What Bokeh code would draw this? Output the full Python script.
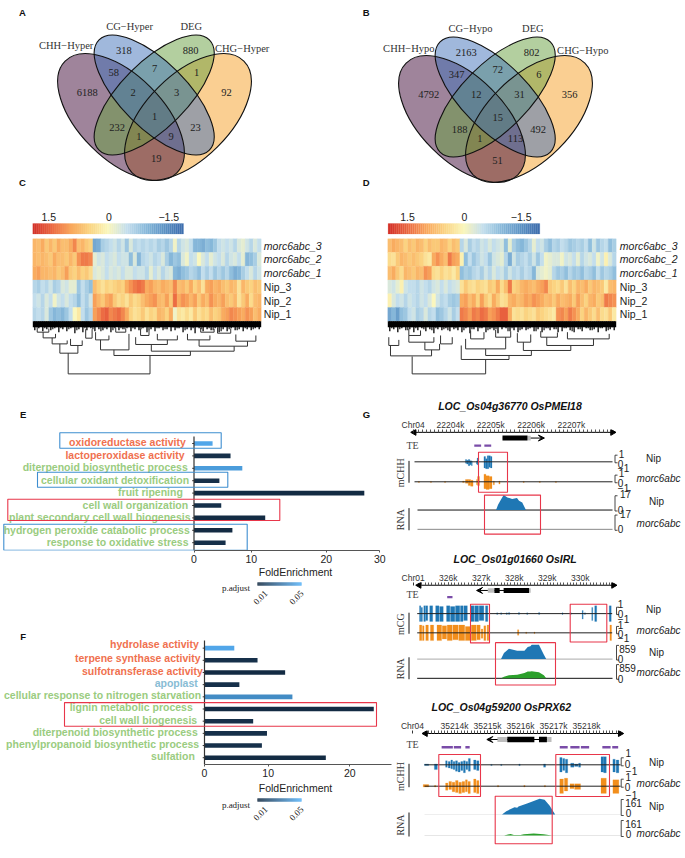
import numpy as np
from bokeh.embed import file_html
from bokeh.resources import INLINE
from bokeh.plotting import figure
from bokeh.layouts import column, row
from bokeh.models import Range1d, LinearColorMapper, ColumnDataSource, FixedTicker, Arrow, VeeHead
from bokeh.core.properties import value

# ---------------- data ----------------
venn_a_counts = ["318","880","58","7","1","6188","2","3","92","1","232","23","1","9","19"]
venn_a_sets = ["CHH−Hyper","CG−Hyper","DEG","CHG−Hyper"]
venn_b_counts = ["2163","802","347","72","6","4792","12","31","356","15","188","492","1","113","51"]
venn_b_sets = ["CHH−Hypo","CG−Hypo","DEG","CHG−Hypo"]

heat_rows = ["morc6abc_3","morc6abc_2","morc6abc_1","Nip_3","Nip_2","Nip_1"]
heat_c_0 = [.8,.7,.9,.6,.8,.6,.9,.7,.7,.9,1.2,.7,.8,.6,.5,-1.2,-1.1,-.7,-.6,-.5,-.4,-.6,-.4,-.8,-.3,-.6,-.5,-.6,-.5,-.6,-.5,-.7,-.6,-.8,-.6,-.1,-.6,-.4,-.3,-.5,-1.0,-1.0,-1.1,-.9,-1.0,-.8,-.5,-.4,-.5,-.4,-.6,-.3,-.2,-.4,-.6,-.3,-.5]
heat_c_1 = [.8,.7,.8,.7,.6,.9,.7,.7,.6,.8,.6,1.1,1.3,1.3,1.2,-.2,-.4,-.3,-.5,-.4,-.3,-.5,-.4,-.4,-.9,-.3,-1.0,-.6,-.5,-.4,-.6,-.5,-.3,-.7,-1.0,-.8,-.9,-.3,-.1,-.5,-.4,.0,-.3,-.5,-.2,-.4,-.5,-.3,-.6,-.4,-.3,-.5,-.2,-1.0,-.9,-.7,-.3]
heat_c_2 = [.9,1.0,.8,.8,.7,.8,.6,.7,1.0,.6,.5,.7,.5,.6,.4,-.3,-.2,-.3,-.5,-.3,-.4,-.3,-.5,-.3,-.3,-.5,-.4,-.4,-.6,-.2,-.5,-.3,-.6,-.4,-.3,-1.0,-1.1,-.9,-.8,-.6,-.7,-.9,-.5,-.7,-.5,-.8,-.6,-.8,-.6,-.9,-1.1,-1.0,-.7,-.5,-.3,-.6,-.4]
heat_c_3 = [-.6,-.7,-.5,-.6,-.4,-.7,-.6,-.3,-.4,-.2,-.2,-.8,-.5,-.7,-.9,.7,.5,.3,.5,.4,.5,.6,.5,.9,1.1,1.3,1.4,1.3,.9,1.0,.8,.7,.9,.8,.7,1.2,.7,.8,.6,.9,.5,.7,.3,.9,1.0,.8,.9,.7,.6,.8,.7,.3,.8,.6,.5,.7,.6]
heat_c_4 = [-.5,-.4,-.6,-.3,-.5,-.1,-.4,-.5,-.3,-.5,-.6,-.9,-.5,-.7,-.4,1.0,.8,.6,.9,1.0,.6,.4,.5,.3,.6,.4,.5,.7,.9,1.0,1.1,.8,.7,1.0,.6,1.4,.9,1.1,1.0,.8,1.0,.6,.9,.7,1.1,.9,.8,1.0,.7,.6,.8,.3,.6,.9,.4,.7,.8]
heat_c_5 = [-.6,-.5,-.6,-.3,-.8,-1.0,-.9,-1.0,-.8,-.5,.0,.2,-.5,-.8,-.6,1.0,1.2,1.4,1.5,1.2,1.3,1.4,1.2,.9,.5,.3,.4,.6,.3,.5,.4,.8,.7,.5,.9,-.1,.3,.2,.4,.2,.6,.3,.5,.4,.7,.5,.6,.9,1.0,1.2,1.1,1.0,.9,1.1,1.0,.7,.9]
heat_d_0 = [.7,.9,.8,.7,.5,.7,.6,.8,.7,.5,.7,.6,.6,.8,.7,.5,.7,.6,-.6,-.3,-.7,-.5,-.6,-.4,-.5,-.3,-.5,-.4,-.3,-.9,-.2,-.7,-.9,-1.0,-.8,-.6,-.2,-.5,-.4,-.7,-.9,-.6,-.7,-.5,-.6,-.8,-.7,-.6,-.7,-.5,-.9,-.4,-.8,-.6,-.5,-.9,-.7]
heat_d_1 = [.4,.3,.6,.8,.7,.6,.7,.6,.5,.3,.2,.9,1.1,.9,.7,1.3,1.0,.9,.1,-.9,-.5,-.8,-.6,-.4,-.5,-.8,-.4,-.3,-.2,-.6,-1.1,-.4,-.7,-.6,-.5,-.7,-.4,-.8,-.5,-.1,-.2,-.3,-.3,-.1,-.4,-.3,-.5,-.2,-.6,-.4,-.3,-.5,-.1,-.4,.1,-.3,-.6]
heat_d_2 = [.7,.9,.6,.4,.8,.7,.6,.8,.7,1.1,1.0,.4,.3,.5,.3,.4,.2,.5,-.9,-.7,-.8,-.6,-.5,-.7,-.4,-.6,-.3,-.5,-.4,-.7,-.4,-.6,-.5,-.7,-.5,-.6,-1.0,-.3,-.2,-.1,-.2,-.6,-.8,-.7,-.9,-.6,-.8,-.7,-.9,-.6,-.7,-.9,-.5,-.8,-.6,-.7,-.9]
heat_d_3 = [-.3,-.4,-.2,.1,-.4,-.5,-.5,-.6,-.4,-.5,-.6,-.4,-.3,-.5,-.3,-.5,-.4,-.3,.3,.6,.4,.3,.5,.4,.3,.6,.5,.9,.4,.7,1.3,.5,.6,.8,.9,.8,.7,.9,1.0,1.2,.6,.5,.4,.6,.3,.7,.5,.8,.7,.9,.6,.8,.7,.6,.2,.7,.8]
heat_d_4 = [.1,-.3,-.5,-.4,-.6,-.4,-.5,-.6,-.4,-.5,-.3,.0,-.4,-.6,-.5,-.7,-.8,-.7,.9,1.0,.7,.9,.5,1.0,.6,.4,.9,.6,.3,.4,.8,.9,.7,.8,1.0,.9,1.1,1.0,.9,.7,.8,.6,.9,.7,.8,.9,.6,1.0,.7,.5,.8,.9,.6,.7,1.3,1.2,1.1]
heat_d_5 = [-1.2,-1.0,-1.3,-.9,-.8,-.5,-.4,-.7,-.6,-.3,-.6,-.5,-.9,-.8,-.6,-.4,-.7,-.5,1.3,1.2,1.0,1.3,1.2,1.4,1.3,1.0,1.1,1.3,1.5,1.5,.9,.3,.4,.3,.5,.4,.3,.6,.5,.4,.3,.2,1.1,1.2,1.0,1.3,1.1,.9,.5,.8,.6,.4,.7,.4,.3,.6,.2]

# dendrogram merges: left column, right column, height, left child height, right child height
dendro_c = [(8.83,29.25,52.7,32,34.3),(6.75,11.25,32,22.7,24.3),(4.83,8.58,22.7,16.7,19.3),(2.58,5.67,16.7,11,12.7),
 (9.42,12.33,24.3,17.7,19.3),(20.25,39.33,34.3,28.7,30),(16.9,24,28.7,18.7,12.7),(15.67,19,18.7,11,14.3),
 (29.58,50.25,30,23.3,25),(25.67,33.58,23.3,16,18.7),(31.08,36.08,18.7,12.7,14.3),(41.5,53.58,25,18.7,20),
 (38.6,44.2,18.7,12.7,14.3),(50.67,55.67,20,13.3,14.3),(1.1,4,11,6,7.3),(13.2,14.8,17,8,8),(20.7,23.2,11,6.7,7.7),
 (26.9,29,14.3,7.7,8.7),(41.9,45.25,11,6.7,7.7),(46.1,49.4,12,6,7.3)]
dendro_d = [(6.08,24.42,52.7,35.3,38.3),(.67,10.92,34.7,24.3,28.7),(9.25,12.92,28.7,21,22.7),(.25,2.75,24.3,16,18.7),
 (5.25,11.5,21,14.3,16),(18.33,30.25,38.3,24.3,34.3),(24.42,35.83,34.3,27.7,29.3),(19.42,29.42,27.7,17.7,16),
 (33.83,45.67,29.3,21,24.3),(39.67,51.33,24.3,16,17.7),(44.83,55.25,17.7,11,12.7),(38.17,42.33,16,10,11.3),
 (32.33,35.67,21,12,13.3),(20.67,24,17.7,9.3,11),(26.92,30.67,16,8.7,10),(5.25,8.17,14.3,7.7,9.3),(13.17,16.08,22.7,14.3,16)]
leaf_c = [6,4,7,5,6,4,8,5,7,4,9,5,8,6,4,7,5,6,5,8,4,6,5,4,7,5,6,4,8,5,7,4,6,5,7,6,4,8,5,6,9,4,7,5,6,4,8,5,7,4,6,5,7,5,6,4,5]
leaf_d = [7,5,8,4,6,5,8,6,4,7,5,9,5,6,4,7,5,6,8,4,9,5,7,4,8,5,6,9,5,4,7,6,8,5,6,4,7,5,8,4,6,5,8,7,4,6,8,5,7,4,6,5,8,4,7,5,6]

go_e_terms = ["oxidoreductase activity","lactoperoxidase activity","diterpenoid biosynthetic process","cellular oxidant detoxification","fruit ripening","cell wall organization","plant secondary cell wall biogenesis","hydrogen peroxide catabolic process","response to oxidative stress"]
go_e_fold = [3.0,5.9,7.8,4.1,27.5,4.4,11.5,6.2,5.1]
go_e_padj = [.05,.006,.046,.006,.004,.006,.004,.004,.006]
go_f_terms = ["hydrolase activity","terpene synthase activity","sulfotransferase activity","apoplast","cellular response to nitrogen starvation","lignin metabolic process","cell wall biogenesis","diterpenoid biosynthetic process","phenylpropanoid biosynthetic process","sulfation"]
go_f_fold = [4.1,7.3,11.1,4.8,12.1,23.3,6.7,8.6,7.9,16.7]
go_f_padj = [.05,.006,.004,.006,.04,.004,.006,.006,.006,.004]

# (start kb, end kb, up, down) methylation blocks, (kb, reads) RNA outlines
g1_m_nip = [(22204.37,22204.40,.3,.2),(22204.40,22204.44,.2,.3),(22204.44,22204.48,.3,.5),(22204.48,22204.52,.15,.4),(22204.52,22204.54,.1,.5),(22204.645,22204.66,.1,.3),(22204.66,22204.70,.5,.4),(22204.83,22204.87,.7,.8),(22204.87,22204.91,.4,.9),(22204.91,22204.95,.8,.9),(22204.95,22204.99,.8,.7),(22204.99,22205.03,.7,.8)]
g1_m_mut = [(22204.30,22204.34,.1,.1),(22204.37,22204.44,.3,.2),(22204.44,22204.50,.3,.5),(22204.50,22204.56,.2,.6),(22204.645,22204.67,.3,.4),(22204.67,22204.72,.7,.5),(22204.83,22204.88,1,.9),(22204.88,22204.96,.8,1),(22204.96,22205.03,.7,.9),(22205.06,22205.09,.1,.4),(22205.20,22205.23,.1,.3),(22203.20,22203.23,.05,.1),(22203.50,22203.53,.05,.1),(22203.85,22203.88,.05,.1),(22205.80,22205.83,.05,.1),(22206.20,22206.23,.05,.1),(22206.60,22206.63,.05,.1)]
g1_r_nip_kb = [22205.13,22205.18,22205.26,22205.32,22205.41,22205.53,22205.65,22205.70,22205.78,22205.86,22205.87]
g1_r_nip = [0,6,12.5,17,14.4,12.5,13.6,10.6,8.7,1.1,0]
g2_m_nip = [(325.13,325.17,1,1),(325.18,325.22,.8,1),(325.26,325.31,1,1),(325.32,325.38,1,.9),(325.44,325.53,1,1),(325.62,325.72,1,1),(325.74,325.85,.9,1),(325.95,326.05,1,1),(326.07,326.2,.9,1),(326.22,326.35,1,1),(326.37,326.45,1,1),(326.47,326.58,1,.9),(326.68,326.78,1,1),(326.80,326.92,1,1),(326.94,327.08,1,.9),(327.13,327.2,1,1),(327.47,327.50,.1,.1),(327.59,327.62,.1,.1),(327.76,327.79,.1,.1),(327.83,327.86,.15,.1),(328.13,328.16,.15,.1),(328.38,328.41,.1,.1),(328.74,328.77,.15,.1),(329.45,329.48,.1,.1),(329.70,329.73,.1,.1),(330.06,330.09,.4,.7),(330.13,330.16,.1,.1),(330.35,330.38,.8,.9),(330.44,330.50,1,1),(330.88,330.94,1,1)]
g2_m_mut = [(325.13,325.20,1,1),(325.22,325.27,.9,1),(325.32,325.40,1,1),(325.46,325.56,1,1),(325.66,325.80,1,1),(325.82,325.95,.9,.8),(325.97,326.12,1,1),(326.14,326.30,1,.9),(326.32,326.50,1,1),(326.52,326.68,.8,1),(326.70,326.85,1,1),(326.87,326.97,1,.9),(327.00,327.05,.5,.7),(327.08,327.14,.9,1),(327.18,327.23,1,1),(328.10,328.14,.4,.3),(328.35,328.38,.1,.1),(328.60,328.63,.1,.1),(330.90,330.95,1,1)]
g2_r_kb = [327.6,327.69,327.84,328.09,328.31,328.41,328.49,328.53,328.75,328.9,328.97]
g2_r_nip = [0,366,621,493,493,731,768,859,859,256,0]
g2_r_mut = [0,100,183,219,311,402,402,420,366,183,0]
g3_m_nip = [(35213.09,35213.22,.1,.1),(35213.39,35213.48,.1,.6),(35213.73,35213.78,.5,.3),(35213.81,35213.87,.4,.4),(35213.89,35213.94,.6,.5),(35213.96,35214.01,.4,.6),(35214.03,35214.09,.5,.8),(35214.11,35214.17,.3,.9),(35214.19,35214.25,.4,.7),(35214.27,35214.33,.5,1),(35214.35,35214.40,.4,.6),(35214.42,35214.48,.8,.8),(35214.58,35214.65,.6,.6),(35214.67,35214.74,.5,.7),(35215.10,35215.14,.05,.1),(35215.40,35215.44,.05,.1),(35215.95,35215.99,.1,.1),(35216.70,35216.76,.1,.3),(35217.19,35217.26,.9,.9),(35217.28,35217.34,.8,.7),(35217.36,35217.43,.7,1),(35217.52,35217.62,.2,.3),(35217.64,35217.74,.1,.2),(35217.76,35217.82,.2,.3),(35218.44,35218.52,1,.9),(35218.52,35218.60,1,1),(35218.80,35218.87,.7,.9),(35218.90,35218.98,.6,1)]
g3_m_mut = [(35213.05,35213.22,.2,.1),(35213.39,35213.44,.1,.1),(35213.73,35213.80,.4,.5),(35213.83,35213.91,.6,.4),(35213.93,35214.01,.5,.7),(35214.03,35214.11,.7,.8),(35214.13,35214.21,.5,.9),(35214.23,35214.31,.6,.8),(35214.33,35214.39,.8,.7),(35214.41,35214.48,.6,.9),(35214.58,35214.65,.9,.8),(35214.67,35214.74,.7,.9),(35215.30,35215.34,.1,.1),(35216.10,35216.14,.1,.1),(35216.72,35216.76,.1,.1),(35217.19,35217.30,.9,.9),(35217.33,35217.43,1,.6),(35217.50,35217.62,.3,.3),(35217.64,35217.82,.3,.4),(35218.44,35218.60,1,.9),(35218.80,35218.98,.8,.9)]
g3_r_kb = [35215.44,35215.57,35215.82,35215.9,35215.94,35216.22,35216.58,35216.73,35216.88,35217.05]
g3_r_nip = [0,34,75,70,82,116,161,151,92,0]
g3_r_mut_kb = [35215.5,35215.7,35215.8,35216.0,35216.1,35216.4,35216.7,35216.95]
g3_r_mut = [0,16,6,6,12,20,14,0]

# ---------------- helpers ----------------
SANS, SERIF = "Liberation Sans", "Liberation Serif"
def T(p, x, y, s, size=10, color="black", font=SANS, style="normal", align="center", base="middle", angle=0):
    p.text(x=[x], y=[y], text=[s], text_font=value(font), text_font_size=f"{size}px", text_color=color,
           text_font_style=style, text_align=align, text_baseline=base, angle=angle)

def fig(w, h, xr, yr, **kw):
    p = figure(width=w, height=h, x_range=Range1d(*xr), y_range=Range1d(*yr), output_backend="svg", toolbar_location=None,
               min_border_left=0, min_border_right=0, min_border_top=kw.pop("top", 0), min_border_bottom=kw.pop("bottom", 0),
               x_axis_location=kw.pop("xloc", None), y_axis_location=None, **kw)
    p.outline_line_color = None
    p.grid.visible = False
    return p

def interp_palette(anchors, n=256):
    rgb = np.array([[int(a[i:i+2], 16) for i in (1, 3, 5)] for a in anchors], float)
    t = np.linspace(0, 1, len(anchors))
    u = np.linspace(0, 1, n)
    return ["#%02x%02x%02x" % tuple(int(round(np.interp(v, t, rgb[:, k]))) for k in range(3)) for v in u]

heat_map = LinearColorMapper(palette=interp_palette(["#3f6fae","#5f95c6","#8bbbdb","#c6e0ed","#fbf7bd","#fbd583","#f9a75c","#ec6a42","#d4322a"]), low=-1.9, high=1.9)
padj_map = LinearColorMapper(palette=interp_palette(["#132B43","#56B1F7"]), low=0.004, high=0.054)

# ---------------- Venn ----------------
def venn(w, xr, dx, dy, counts, sets, count_xy, set_xy, letters):
    p = fig(w, 192, xr, (192, 0))
    ell = [(187.5, 116.5, 79, 42, np.pi/4, "#f59f25"), (120.5, 116.5, 79, 42, -np.pi/4, "#3f0a38"),
           (153.7, 94.5, 78, 33, np.pi/4, "#68a040"), (153.7, 94.5, 78, 33, -np.pi/4, "#4171b9")]
    for cx, cy, a, b, ang, col in ell:
        p.ellipse(x=[cx+dx], y=[cy+dy], width=[2*a], height=[2*b], angle=[ang], fill_color=col, fill_alpha=.5, line_color=None)
    for cx, cy, a, b, ang, col in ell:
        p.ellipse(x=[cx+dx], y=[cy+dy], width=[2*a], height=[2*b], angle=[ang], fill_color=None, line_color="#111111", line_width=1.1)
    for s, (x, y) in zip(counts, count_xy):
        T(p, x, y, s, 10.5, "#222222", SERIF)
    for s, (x, y) in zip(sets, set_xy):
        T(p, x, y, s, 10.5, "#333333", SERIF)
    for s, x, y in letters:
        T(p, x, y, s, 9.5, "#111111", SANS, "bold")
    return p

a_xy = [(123.3,50),(190,50),(113.3,72.3),(154,67.7),(196,72.3),(86.7,92.3),(132.7,92.3),(176,92.3),(226,92.3),(154,116),(116.7,127.3),(195,127.3),(138.3,136),(170.7,136),(155.7,158.3)]
a_sets = [(65.7,45),(129,26),(190.7,26),(241.7,47.7)]
b_xy = [(345+z/3, y/3) for z, y in [(362,155),(558,155),(333,222),(457,208),(580,222),(250,282),(392,282),(522,282),(672,282),(457,352),(342,388),(578,388),(403,414),(510,414),(456,480)]]
b_sets = [(345+z/3, y/3) for z, y in [(190,143),(375,83),(562,83),(712,150)]]
pA = venn(345, (0, 345), 0, 0, venn_a_counts, venn_a_sets, a_xy, a_sets, [("A", 22, 12), ("C", 22, 182)])
pB = venn(340, (345, 685), 341, 2, venn_b_counts, venn_b_sets, b_xy, b_sets, [("B", 365.7, 12), ("D", 365.7, 182)])

# ---------------- Heatmaps ----------------
def heat(w, px0, px1, hx0, matrix, merges, leaves, bar_x, tick_x, label_x):
    cw, rh, hy0 = 228.4/57, 13.73, 238.3
    X = lambda px: (px-hx0)/cw
    Y = lambda py: (py-hy0)/rh
    p = fig(w, 200, (X(px0), X(px1)), (Y(392), Y(192)))
    xs, ys, vs = [], [], []
    for r, vals in enumerate(matrix):
        for c, v in enumerate(vals):
            xs.append(c+.5); ys.append(r+.5); vs.append(v)
    src = ColumnDataSource(dict(x=xs, y=ys, v=vs))
    col = {"field": "v", "transform": heat_map}
    p.rect("x", "y", width=1, height=1, source=src, fill_color=col, line_color=col, line_width=.3)
    # colour scale
    n = 75
    scale = np.linspace(heat_map.high, heat_map.low, n)
    ex = np.linspace(X(bar_x[0]), X(bar_x[1]), n+1)
    s2 = ColumnDataSource(dict(l=ex[:-1], r=ex[1:], v=scale))
    p.quad(left="l", right="r", bottom=Y(233.5), top=Y(223), source=s2, fill_color=col, line_color=col, line_width=.2)
    for s, tx in zip(["1.5", "0", "−1.5"], tick_x):
        T(p, X(tx), Y(216), s, 10.5, "#222222")
    # dendrogram: leaf fuzz and merges
    lc = np.arange(len(leaves))
    p.segment(x0=lc+.5, y0=[6]*len(lc), x1=lc+.5, y1=[6+(h+3)/rh for h in leaves], line_color="black", line_width=1.3)
    p.segment(x0=lc[:-1]+1, y0=[6]*(len(lc)-1), x1=lc[:-1]+1, y1=[6+(h+1)/rh for h in leaves[::-1][:-1]], line_color="black", line_width=1.1)
    p.quad(left=[0], right=[57], top=[6], bottom=[6+6/rh], fill_color="black", line_color=None)
    for l, r, h, hl, hr in merges:
        p.multi_line(xs=[[l, l, r, r]], ys=[[6+hl/rh, 6+h/rh, 6+h/rh, 6+hr/rh]], line_color="#333333", line_width=1)
    for i, name in enumerate(heat_rows):
        T(p, X(label_x), i+.5, name, 10.5, "#222222", SANS, "italic" if i < 3 else "normal", "left")
    return p

pC = heat(345, 0, 345, 32.3, [heat_c_0,heat_c_1,heat_c_2,heat_c_3,heat_c_4,heat_c_5], dendro_c, leaf_c, (32.3,183), (48.3,108.3,168.3), 263.3)
pD = heat(340, 345, 685, 387.3, [heat_d_0,heat_d_1,heat_d_2,heat_d_3,heat_d_4,heat_d_5], dendro_d, leaf_d, (387.6,539.3), (407,464,520.7), 619.3)

# ---------------- GO bars ----------------
RED, BLUE = "#e8364a", "#3e8ed0"
ORANGE, GREEN, CC = "#f0714f", "#9acc80", "#88bcd4"

def go(height, ytop, ybot, zero, k, c0, dy, terms, fold, padj, colors, label_right, label_y, ticks, tick_labels, bound, boxes, axis_top):
    X = lambda px: (px-zero)/k
    Y = lambda py: (py-c0)/dy
    p = fig(392, height, (X(0), X(392)), (Y(ybot), Y(ytop)), xloc="below", bottom=16)
    ax = p.xaxis[0]
    ax.ticker = FixedTicker(ticks=ticks)
    ax.major_label_overrides = dict(zip(ticks, tick_labels))
    ax.bounds = (0, bound)
    ax.axis_line_color = "#555555"
    ax.major_tick_line_color = "#555555"
    ax.major_tick_in, ax.major_tick_out = 0, 2
    ax.minor_tick_line_color = None
    ax.major_label_text_font, ax.major_label_text_font_size = SANS, "10.5px"
    ax.major_label_text_color = "#222222"
    ax.major_label_standoff = 2
    src = ColumnDataSource(dict(y=list(range(len(terms))), v=fold, p=padj))
    p.hbar(y="y", right="v", left=0, height=4.6/dy, source=src, fill_color={"field": "p", "transform": padj_map}, line_color=None)
    p.segment(x0=[0], x1=[0], y0=[Y(axis_top)], y1=[Y(ybot)], line_color="#333333", line_width=1.2)
    p.segment(x0=[X(zero-1.8)]*len(terms), x1=[0]*len(terms), y0=list(range(len(terms))), y1=list(range(len(terms))), line_color="#333333", line_width=1)
    for s, c, rx, ly in zip(terms, colors, label_right, label_y):
        T(p, X(rx), Y(ly), s, 10.5, c, SANS, "bold", "right")
    for x0, x1, y0, y1, c in boxes:
        p.quad(left=[X(x0)], right=[X(x1)], top=[Y(y0)], bottom=[Y(y1)], fill_color=None, line_color=c, line_width=1.1)
    return p

def legend(height, ytop, ybot, fold_y, bar_y, padj_y, tick_y):
    p = fig(392, height, (0, 392), (ybot, ytop))
    T(p, 295, fold_y, "FoldEnrichment", 10.5, "#222222")
    T(p, 235.5, padj_y, "p.adjust", 9, "#222222", SERIF)
    vals = np.linspace(padj_map.low, padj_map.high, 44)
    ex = np.linspace(257, 301, 45)
    col = {"field": "v", "transform": padj_map}
    p.quad(left="l", right="r", top=bar_y, bottom=bar_y+3, source=ColumnDataSource(dict(l=ex[:-1], r=ex[1:], v=vals)), fill_color=col, line_color=col, line_width=.2)
    T(p, 260, tick_y, "0.01", 9, "#222222", SERIF, angle=np.pi/4)
    T(p, 296, tick_y, "0.05", 9, "#222222", SERIF, angle=np.pi/4)
    return p

pE = go(174, 392, 550, 193.5, 6.193, 443, 12.4, go_e_terms, go_e_fold, go_e_padj,
        [ORANGE, ORANGE, GREEN, GREEN, GREEN, GREEN, GREEN, GREEN, GREEN],
        [185.3,184,187.3,188.7,182.3,187.7,190,189.3,188], [441.3,454,466.3,479,491,504,516.3,529,541.3],
        [0, 9.24, 21.35, 30], ["0", "10", "20", "30"], 30,
        [(59.3,220.7,432.3,447.7,BLUE),(37,227.3,471.7,486.7,BLUE),(3.3,246.7,523.7,549.7,BLUE),(7.3,279.3,498.7,520,RED)], 436)
T(pE, (22.7-193.5)/6.193, (414-443)/12.4, "E", 9.5, "#111111", SANS, "bold")
T(pE, (366-193.5)/6.193, (414-443)/12.4, "G", 9.5, "#111111", SANS, "bold")
pLE = legend(44, 566, 610, 571, 582, 587, 597)

pF = go(170, 610, 764.3, 204, 7.265, 647.7, 12.2, go_f_terms, go_f_fold, go_f_padj,
        [ORANGE, ORANGE, ORANGE, CC, GREEN, GREEN, GREEN, GREEN, GREEN, GREEN],
        [198.3,200,202.3,197.3,200.7,192.3,196.7,197.3,198.7,194.3], [643.7,658,670.7,683,694.7,707,719.3,731.7,743.3,755.3],
        [0, 8.77, 20], ["0", "10", "20"], 25.7,
        [(64,376,702.3,726,RED)], 640)
T(pF, (22.7-204)/7.265, (635.7-647.7)/12.2, "F", 9.5, "#111111", SANS, "bold")
pLF = legend(78, 780, 858, 787, 798, 804, 813)

# ---------------- Gene tracks ----------------
PURPLE, BL, OR, GR = "#7a4ca8", "#1f77b4", "#f28e1c", "#2ca02c"

def gene(height, ytop, yaxis, kb0, px0, ppk, title, title_x, ax_x, ticks, tick_fmt, chr_label, chr_x,
         exons_black, exons_grey, intron, arrow, gene_y, te, te_y, te_text_y,
         mname, m_y, m_x, m_blocks, mcols, mscale, r_y, r_x, r_src, r_cols, r_max, r_line, boxes,
         m_num, r_num, brk_x, labels):
    K = lambda px: kb0+(px-px0)/ppk
    ftop = yaxis-3
    p = fig(293, height, (K(392), K(685)), (ytop+height, ftop), xloc="above", top=ftop-ytop)
    p.title.text = title
    p.title.text_font, p.title.text_font_style, p.title.text_font_size = SANS, "bold italic", "10.5px"
    p.title.text_color = "#111111"
    p.title.align = "left"
    p.title.offset = title_x-392
    ax = p.xaxis[0]
    cx = round(K(chr_x), 3)
    lo, hi = K(ax_x[0]+3), K(ax_x[1]-3)
    minors = [m for m in np.round(np.arange(ticks[0]-3, ticks[-1]+3, .1), 1).tolist() if lo < m < hi]
    ax.ticker = FixedTicker(ticks=[cx]+ticks, minor_ticks=minors)
    ax.major_label_overrides = {cx: chr_label, **{t: tick_fmt % t for t in ticks}}
    ax.axis_line_color = None
    ax.major_tick_in, ax.major_tick_out = 3, 0
    ax.minor_tick_in, ax.minor_tick_out = 3, 0
    ax.major_tick_line_color = "#333333"
    ax.minor_tick_line_color = "#555555"
    ax.major_label_standoff = 0
    ax.major_label_text_font, ax.major_label_text_font_size = SANS, "8.5px"
    ax.major_label_text_color = "#333333"
    p.segment(x0=[K(ax_x[0])], x1=[K(ax_x[1])], y0=[yaxis], y1=[yaxis], line_color="black", line_width=1)
    p.scatter(x=[K(ax_x[0]+2)], y=[yaxis], marker="triangle", angle=[np.pi/2], size=6, fill_color="black", line_color="black")
    p.scatter(x=[K(ax_x[1]-2)], y=[yaxis], marker="triangle", angle=[-np.pi/2], size=6, fill_color="black", line_color="black")
    # gene model
    p.segment(x0=[intron[0]], x1=[intron[1]], y0=[gene_y], y1=[gene_y], line_color="black", line_width=1)
    for s, e in exons_grey:
        p.quad(left=[s], right=[e], top=[gene_y-2.5], bottom=[gene_y+2.5], fill_color="#bdbdbd", line_color=None)
    for s, e in exons_black:
        p.quad(left=[s], right=[e], top=[gene_y-2.7], bottom=[gene_y+2.7], fill_color="black", line_color=None)
    p.add_layout(Arrow(end=VeeHead(size=6, line_color="black", line_width=1), x_start=arrow[0], x_end=arrow[1], y_start=gene_y, y_end=gene_y, line_color="black", line_width=1))
    # TE
    T(p, K(412), te_text_y, "TE", 10, "#444444", SERIF)
    for s, e in te:
        p.quad(left=[s], right=[e], top=[te_y-1.2], bottom=[te_y+1.2], fill_color=PURPLE, line_color=None)
    # methylation
    for base, blocks, c in zip(m_y, m_blocks, mcols):
        st, en, up, dn = zip(*blocks)
        p.quad(left=st, right=en, top=[base-u*mscale for u in up], bottom=[base+d*mscale for d in dn], fill_color=c, line_color=c, line_width=.2)
        p.segment(x0=[K(m_x[0])], x1=[K(m_x[1])], y0=[base], y1=[base], line_color="#222222", line_width=1)
    # RNA
    for base, (kb, v), c, lc in zip(r_y, r_src, r_cols, r_line):
        p.segment(x0=[K(r_x[0])], x1=[K(r_x[1])], y0=[base], y1=[base], line_color=lc, line_width=1)
        if kb:
            p.varea(x=kb, y1=[base]*len(kb), y2=[base-u/r_max*15.7 for u in v], fill_color=c)
    # side bars and names
    T(p, K(400), (m_y[0]+m_y[1])/2+1, mname, 10, "#333333", SERIF, angle=np.pi/2)
    T(p, K(400), (r_y[0]+r_y[1])/2, "RNA", 10, "#333333", SERIF, angle=np.pi/2)
    p.segment(x0=[K(408.5)]*2, x1=[K(408.5)]*2, y0=[m_y[0]-1, r_y[0]-2], y1=[m_y[1]+1, r_y[1]+1], line_color="#111111", line_width=1)
    # scale brackets
    for base, top in [(m_y[0], 7), (m_y[1], 7), (r_y[0], 15), (r_y[1], 15)]:
        b0 = K(brk_x)
        b1 = K(brk_x+2.5)
        p.multi_line(xs=[[b1, b0, b0, b1]], ys=[[base-top, base-top, base+1, base+1]], line_color="#333333", line_width=.9)
    for s, x, y in m_num+r_num:
        T(p, K(x), y, s, 10, "#222222")
    for s, x, y, st in labels:
        T(p, K(x), y, s, 10, "#222222", SANS, st)
    for x0, x1, y0, y1 in boxes:
        p.quad(left=[K(x0)], right=[K(x1)], top=[y0], bottom=[y1], fill_color=None, line_color=RED, line_width=1.1)
    return p

pG1 = gene(153, 392, 426, 22204, 450, 40.3, "LOC_Os04g36770 OsPMEI18", 437.7, (411.7, 614),
    [22204,22205,22206,22207], "%dk", "Chr04", 412.7,
    [(22205.29,22205.91)], [(22205.91,22205.99)], (22205.3,22205.9), (22205.99,22206.33), 432,
    [(22204.59,22204.76),(22204.84,22205.01)], 440, 440,
    "mCHH", (457,478), (414,612), (g1_m_nip,g1_m_mut), (BL,OR), 8, (507.7,528), (417,612),
    [(g1_r_nip_kb,g1_r_nip),([],[])], (BL,GR), 17, ("#111111","#888888"),
    [(478,507,447,489),(484,540,492,533)],
    [("1",621,449),("0",620,459),("−1",623,463.5),("1",621,469),("0",620,479),("−1",623,484)],
    [("17",625,491),("0",620,508),("17",625,512),("0",620,528)], 614.5,
    [("Nip",653,454,"normal"),("morc6abc",658,475,"italic"),("Nip",656,499,"normal"),("morc6abc",658,522,"italic")])

pG2 = gene(145, 545, 575, 326, 447.7, 33, "LOC_Os01g01660  OsIRL", 453, (416.7, 615),
    [326,327,328,329,330], "%dk", "Chr01", 412.7,
    [(327.4,327.56),(327.68,328.45)], [(327.2,327.4),(328.45,328.5)], (327.4,328.45), (327.2,326.86), 580.7,
    [(325.97,326.13)], 588, 585,
    "mCG", (606,627), (416.7,611.7), (g2_m_nip,g2_m_mut), (BL,OR), 8.5, (655.7,676.7), (416.7,612),
    [(g2_r_kb,g2_r_nip),(g2_r_kb,g2_r_mut)], (BL,GR), 859, ("#aaaaaa","#111111"),
    [(470,489,595.7,638),(569.7,606.3,595.7,637),(495,555,637.7,684)],
    [("1",620,595),("0",620,606),("−1",623,612),("1",620,618),("0",620,628),("−1",623,633)],
    [("859",627,645),("0",620,655.5),("859",627,665),("0",620,677)], 616,
    [("Nip",653,602,"normal"),("morc6abc",658,624,"italic"),("Nip",656,648,"normal"),("morc6abc",658,670,"italic")])

pG3 = gene(168, 690, 733, 35214, 454, 33, "LOC_Os04g59200 OsPRX62", 431, (423, 621.7),
    [35214,35215,35216,35217,35218], "%dk", "Chr04", 412,
    [(35215.6,35216.42),(35216.56,35216.8)], [(35215.3,35215.6),(35216.8,35216.94)], (35215.3,35216.8), (35215.3,35214.98), 739,
    [(35213.61,35213.95),(35213.98,35214.2),(35214.33,35214.46),(35217.19,35217.43),(35217.51,35217.79),(35217.83,35218.08),(35218.48,35218.73),(35218.78,35218.96)], 746.7, 744,
    "mCHH", (764.3,785.7), (424,620), (g3_m_nip,g3_m_mut), (BL,OR), 8, (814,835), (424,620),
    [(g3_r_kb,g3_r_nip),(g3_r_mut_kb,g3_r_mut)], (BL,GR), 161, ("#eeeeee","#e6e6e6"),
    [(438.3,480,754,796),(555.3,609,754,796),(494.7,551.7,795.7,843.3)],
    [("1",627.7,752.7),("0",627,763),("−1",631,770.7),("1",627.7,776),("0",627,786),("−1",631,794)],
    [("161",633,802.7),("0",628,812.7),("161",633,823),("0",628,833)], 620.7,
    [("Nip",656,761.7,"normal"),("morc6abc",658,782.7,"italic"),("Nip",656,806,"normal"),("morc6abc",658,832.7,"italic")])

page = column(row(pA, pB), row(pC, pD), row(column(pE, pLE, pF, pLF), column(pG1, pG2, pG3)))
open("out.html", "w").write(file_html(page, INLINE))
